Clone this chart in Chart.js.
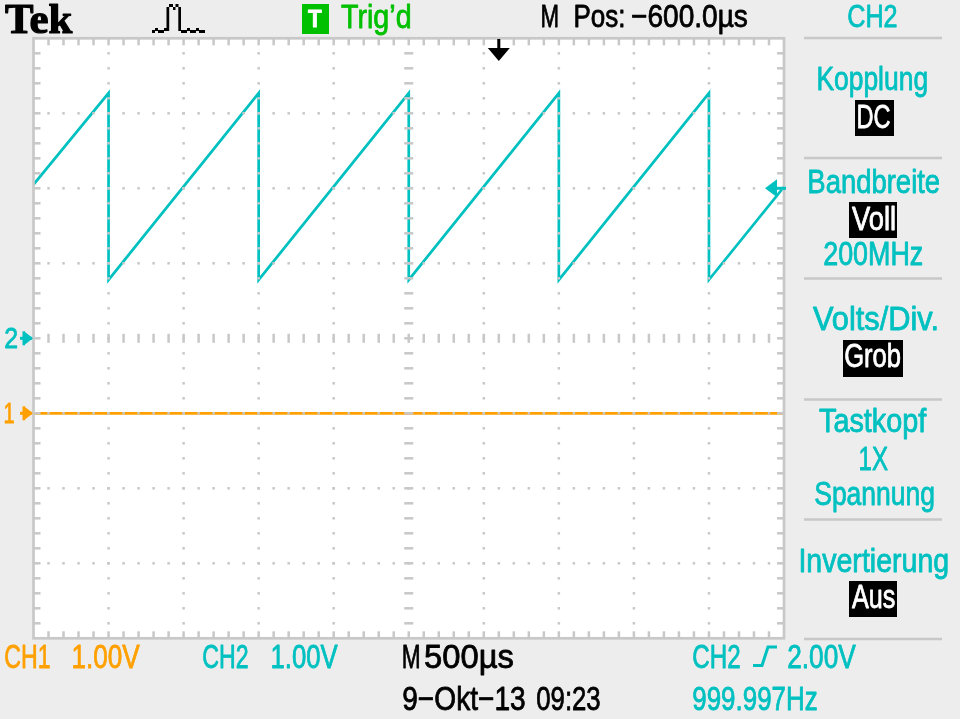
<!DOCTYPE html>
<html>
<head>
<meta charset="utf-8">
<script src="https://cdn.jsdelivr.net/npm/chart.js@4"></script>
<style>
  html, body { margin: 0; padding: 0; background: #ededed; }
  canvas { display: block; }
</style>
</head>
<body>
<canvas id="scope" width="960" height="719"></canvas>
<script>
// CH2 sawtooth vertices (time in us from left edge, volts)
var ch2Times = [0, 500, 500, 1500, 1500, 2500, 2500, 3500, 3500, 4500, 4500, 5000];
var ch2Volts = [2.05, 3.27, 0.78, 3.27, 0.78, 3.27, 0.78, 3.27, 0.78, 3.27, 0.78, 2.02];
// CH1 flat at ground
var ch1Times = [0, 5000];
var ch1Volts = [0, 0];

var voltsPerDiv = 1.0;
var ch1Offset = -1;   // divisions
var ch2Offset = 0;
var timePerDiv = 500; // us
var trigTime = 3100;  // us from left edge
var trigLevel = 2.0;  // V

var CYAN = "#00c0c0";
var ORANGE = "#ffa000";
var GREEN = "#00c000";
var GRAY = "#c8c8c8";
var FONT = "'Liberation Sans', Arial, sans-serif";

function toPoints(ts, vs, offset) {
    return ts.map(function (t, i) {
        return {x: t, y: vs[i] / voltsPerDiv + offset};
    });
}

// draw text squeezed so that its ink spans x0..x1
function fitText(ctx, str, x0, x1, base, font, color, weight) {
    ctx.save();
    ctx.font = font;
    ctx.textAlign = "left";
    ctx.textBaseline = "alphabetic";
    var m = ctx.measureText(str);
    var ink = m.actualBoundingBoxLeft + m.actualBoundingBoxRight;
    var s = (x1 - x0) / ink;
    ctx.translate(x0 + m.actualBoundingBoxLeft * s, base);
    ctx.scale(s, 1);
    ctx.fillStyle = color;
    ctx.fillText(str, 0, 0);
    ctx.strokeStyle = color;
    ctx.lineWidth = weight === undefined ? 0.8 : weight;
    ctx.lineJoin = "round";
    if (ctx.lineWidth > 0) ctx.strokeText(str, 0, 0);
    ctx.restore();
}

function box(ctx, x0, y0, x1, y1, str, tx0, tx1, base) {
    ctx.fillStyle = "#000";
    ctx.fillRect(x0, y0, x1 - x0, y1 - y0);
    fitText(ctx, str, tx0, tx1, base, "33px " + FONT, "#fff");
}

var scopePlugin = {
    id: "scope",
    beforeDraw: function (chart) {
        var ctx = chart.ctx, a = chart.chartArea;
        ctx.save();
        ctx.fillStyle = "#ededed";
        ctx.fillRect(0, 0, chart.width, chart.height);
        ctx.fillStyle = "#fff";
        ctx.fillRect(a.left, a.top, a.right - a.left, a.bottom - a.top);
        ctx.restore();
    },
    afterDatasetsDraw: function (chart) {
        var ctx = chart.ctx, a = chart.chartArea;
        var xs = chart.scales.x, ys = chart.scales.y;
        var v, i, k, px, py;
        ctx.save();
        ctx.fillStyle = GRAY;
        // minor positions
        var minorX = [], minorY = [];
        for (k = 1; k < 50; k++) minorX.push(xs.getPixelForValue(k * timePerDiv / 5));
        for (k = 1; k < 40; k++) minorY.push(ys.getPixelForValue(-4 + k * 0.2));
        // vertical major lines
        for (i = 1; i < 10; i++) {
            px = xs.getPixelForValue(i * timePerDiv);
            minorY.forEach(function (y) {
                if (i === 5) ctx.fillRect(px - 4.5, y - 1.25, 9, 2.5);
                else ctx.fillRect(px - 1.25, y - 1.25, 2.5, 2.5);
            });
        }
        // horizontal major lines
        for (v = -3; v <= 3; v++) {
            py = ys.getPixelForValue(v);
            minorX.forEach(function (x) {
                if (v === 0) ctx.fillRect(x - 1.25, py - 4.5, 2.5, 9);
                else ctx.fillRect(x - 1.25, py - 1.25, 2.5, 2.5);
            });
        }
        // edge ticks
        minorX.forEach(function (x) {
            ctx.fillRect(x - 1.25, a.top, 2.5, 7);
            ctx.fillRect(x - 1.25, a.bottom - 7, 2.5, 7);
        });
        minorY.forEach(function (y) {
            ctx.fillRect(a.left, y - 1.25, 7, 2.5);
            ctx.fillRect(a.right - 7, y - 1.25, 7, 2.5);
        });
        // border
        ctx.strokeStyle = GRAY;
        ctx.lineWidth = 2.7;
        ctx.strokeRect(a.left, a.top, a.right - a.left, a.bottom - a.top);

        // trigger position arrow (top)
        px = xs.getPixelForValue(trigTime);
        ctx.fillStyle = "#000";
        ctx.fillRect(px - 1.5, 39, 3, 11);
        ctx.beginPath();
        ctx.moveTo(px - 11, 48);
        ctx.lineTo(px + 11, 48);
        ctx.lineTo(px, 61);
        ctx.closePath();
        ctx.fill();

        // trigger level arrow (right)
        py = ys.getPixelForValue(trigLevel / voltsPerDiv + ch2Offset);
        ctx.fillStyle = CYAN;
        ctx.fillRect(a.right - 8, py - 1.5, 10, 3);
        ctx.beginPath();
        ctx.moveTo(a.right - 19, py);
        ctx.lineTo(a.right - 7, py - 9);
        ctx.lineTo(a.right - 7, py + 9);
        ctx.closePath();
        ctx.fill();
        ctx.restore();
    },
    afterDraw: function (chart) {
        var ctx = chart.ctx;
        var ys = chart.scales.y;
        var f = "33px " + FONT;
        ctx.save();

        // ground markers on the left
        var markers = [[ch2Offset, "2", CYAN], [ch1Offset, "1", ORANGE]];
        markers.forEach(function (m) {
            var y = ys.getPixelForValue(m[0]);
            fitText(ctx, m[1], 5, m[1] === "1" ? 14 : 17, y + 10, "29px " + FONT, m[2]);
            ctx.fillStyle = m[2];
            ctx.fillRect(20, y - 1.5, 12, 3);
            ctx.fillRect(22.5, y - 7, 2.5, 14);
            ctx.beginPath();
            ctx.moveTo(24, y - 7);
            ctx.lineTo(33, y);
            ctx.lineTo(24, y + 7);
            ctx.closePath();
            ctx.fill();
        });

        // header
        fitText(ctx, "Tek", 5, 73, 33, "bold 42px 'Liberation Serif', serif", "#000", 1.2);
        // pulse icon
        ctx.fillStyle = "#000";
        [[152, 30], [155, 28], [158, 30], [161, 30], [164, 28],
         [184, 30], [187, 28], [190, 30], [193, 30], [196, 28], [199, 30], [202, 30]].forEach(function (p) {
            ctx.fillRect(p[0], p[1], 3, 3);
        });
        ctx.fillRect(166.5, 7, 2.7, 24);
        ctx.fillRect(169, 4, 4, 3);
        ctx.fillRect(173, 7, 2.5, 3);
        ctx.fillRect(175.5, 4, 3, 3);
        ctx.fillRect(178.3, 7, 2.7, 24);
        ctx.fillRect(181, 30, 3, 3);

        ctx.fillStyle = GREEN;
        ctx.fillRect(302, 4, 27, 30);
        fitText(ctx, "T", 308, 322, 27, "bold 24px " + FONT, "#fff");
        fitText(ctx, "Trig\u2019d", 341, 410, 28, "34px " + FONT, GREEN);
        fitText(ctx, "M", 542, 558, 27, "32px " + FONT, "#000");
        fitText(ctx, "Pos:", 575, 623, 27, "32px " + FONT, "#000");
        fitText(ctx, "\u2212600.0\u00b5s", 632, 747, 27, "32px " + FONT, "#000");

        // right menu
        ctx.fillStyle = GRAY;
        [38, 158, 278.5, 399.5, 519.5, 639].forEach(function (y) {
            ctx.fillRect(804, y - 1.25, 138, 2.5);
        });
        fitText(ctx, "CH2", 848, 897, 27, "32px " + FONT, CYAN);
        fitText(ctx, "Kopplung", 818, 927, 90, f, CYAN);
        box(ctx, 855, 100, 894, 136, "DC", 858, 890, 128);
        fitText(ctx, "Bandbreite", 809, 939, 193, f, CYAN);
        box(ctx, 849, 202, 897, 238, "Voll", 852, 895, 230);
        fitText(ctx, "200MHz", 824, 922, 265, f, CYAN);
        fitText(ctx, "Volts/Div.", 813, 937, 330, f, CYAN);
        box(ctx, 843, 340, 903, 377, "Grob", 845, 900, 367);
        fitText(ctx, "Tastkopf", 819, 927, 432, f, CYAN);
        fitText(ctx, "1X", 860, 888, 470, f, CYAN);
        fitText(ctx, "Spannung", 815, 934, 505, f, CYAN);
        fitText(ctx, "Invertierung", 801, 948, 572, f, CYAN);
        box(ctx, 849, 581, 897, 617, "Aus", 852, 895, 608);

        // bottom status
        var fb = "34px " + FONT;
        fitText(ctx, "CH1", 5, 50, 668, fb, ORANGE);
        fitText(ctx, "1.00V", 73, 140, 668, fb, ORANGE);
        fitText(ctx, "CH2", 203, 248, 668, fb, CYAN);
        fitText(ctx, "1.00V", 272, 338, 668, fb, CYAN);
        fitText(ctx, "M", 403, 419, 668, fb, "#000");
        fitText(ctx, "500\u00b5s", 425, 513, 668, fb, "#000");
        fitText(ctx, "9\u2212Okt\u221213", 403, 525, 710, fb, "#000");
        fitText(ctx, "09:23", 537, 600, 710, fb, "#000");
        fitText(ctx, "CH2", 693, 740, 668, fb, CYAN);
        fitText(ctx, "2.00V", 788, 856, 668, fb, CYAN);
        fitText(ctx, "999.997Hz", 693, 817, 710, fb, CYAN);
        // rising edge symbol
        ctx.strokeStyle = CYAN;
        ctx.lineWidth = 3;
        ctx.beginPath();
        ctx.moveTo(753, 665.5);
        ctx.lineTo(762, 665.5);
        ctx.lineTo(768, 647);
        ctx.lineTo(777, 647);
        ctx.stroke();
        ctx.restore();
    }
};

new Chart(document.getElementById("scope"), {
    type: "line",
    data: {
        datasets: [
            {
                label: "CH1",
                data: toPoints(ch1Times, ch1Volts, ch1Offset),
                borderColor: ORANGE,
                borderWidth: 2.7,
                pointRadius: 0,
                tension: 0
            },
            {
                label: "CH2",
                data: toPoints(ch2Times, ch2Volts, ch2Offset),
                borderColor: CYAN,
                borderWidth: 2.7,
                pointRadius: 0,
                tension: 0
            }
        ]
    },
    options: {
        responsive: false,
        animation: false,
        devicePixelRatio: 1,
        layout: {padding: {left: 33.5, right: 176, top: 38.3, bottom: 80.7}},
        plugins: {legend: {display: false}, tooltip: {enabled: false}},
        scales: {
            x: {type: "linear", min: 0, max: 5000, display: false},
            y: {type: "linear", min: -4, max: 4, display: false}
        }
    },
    plugins: [scopePlugin]
});
</script>
</body>
</html>
